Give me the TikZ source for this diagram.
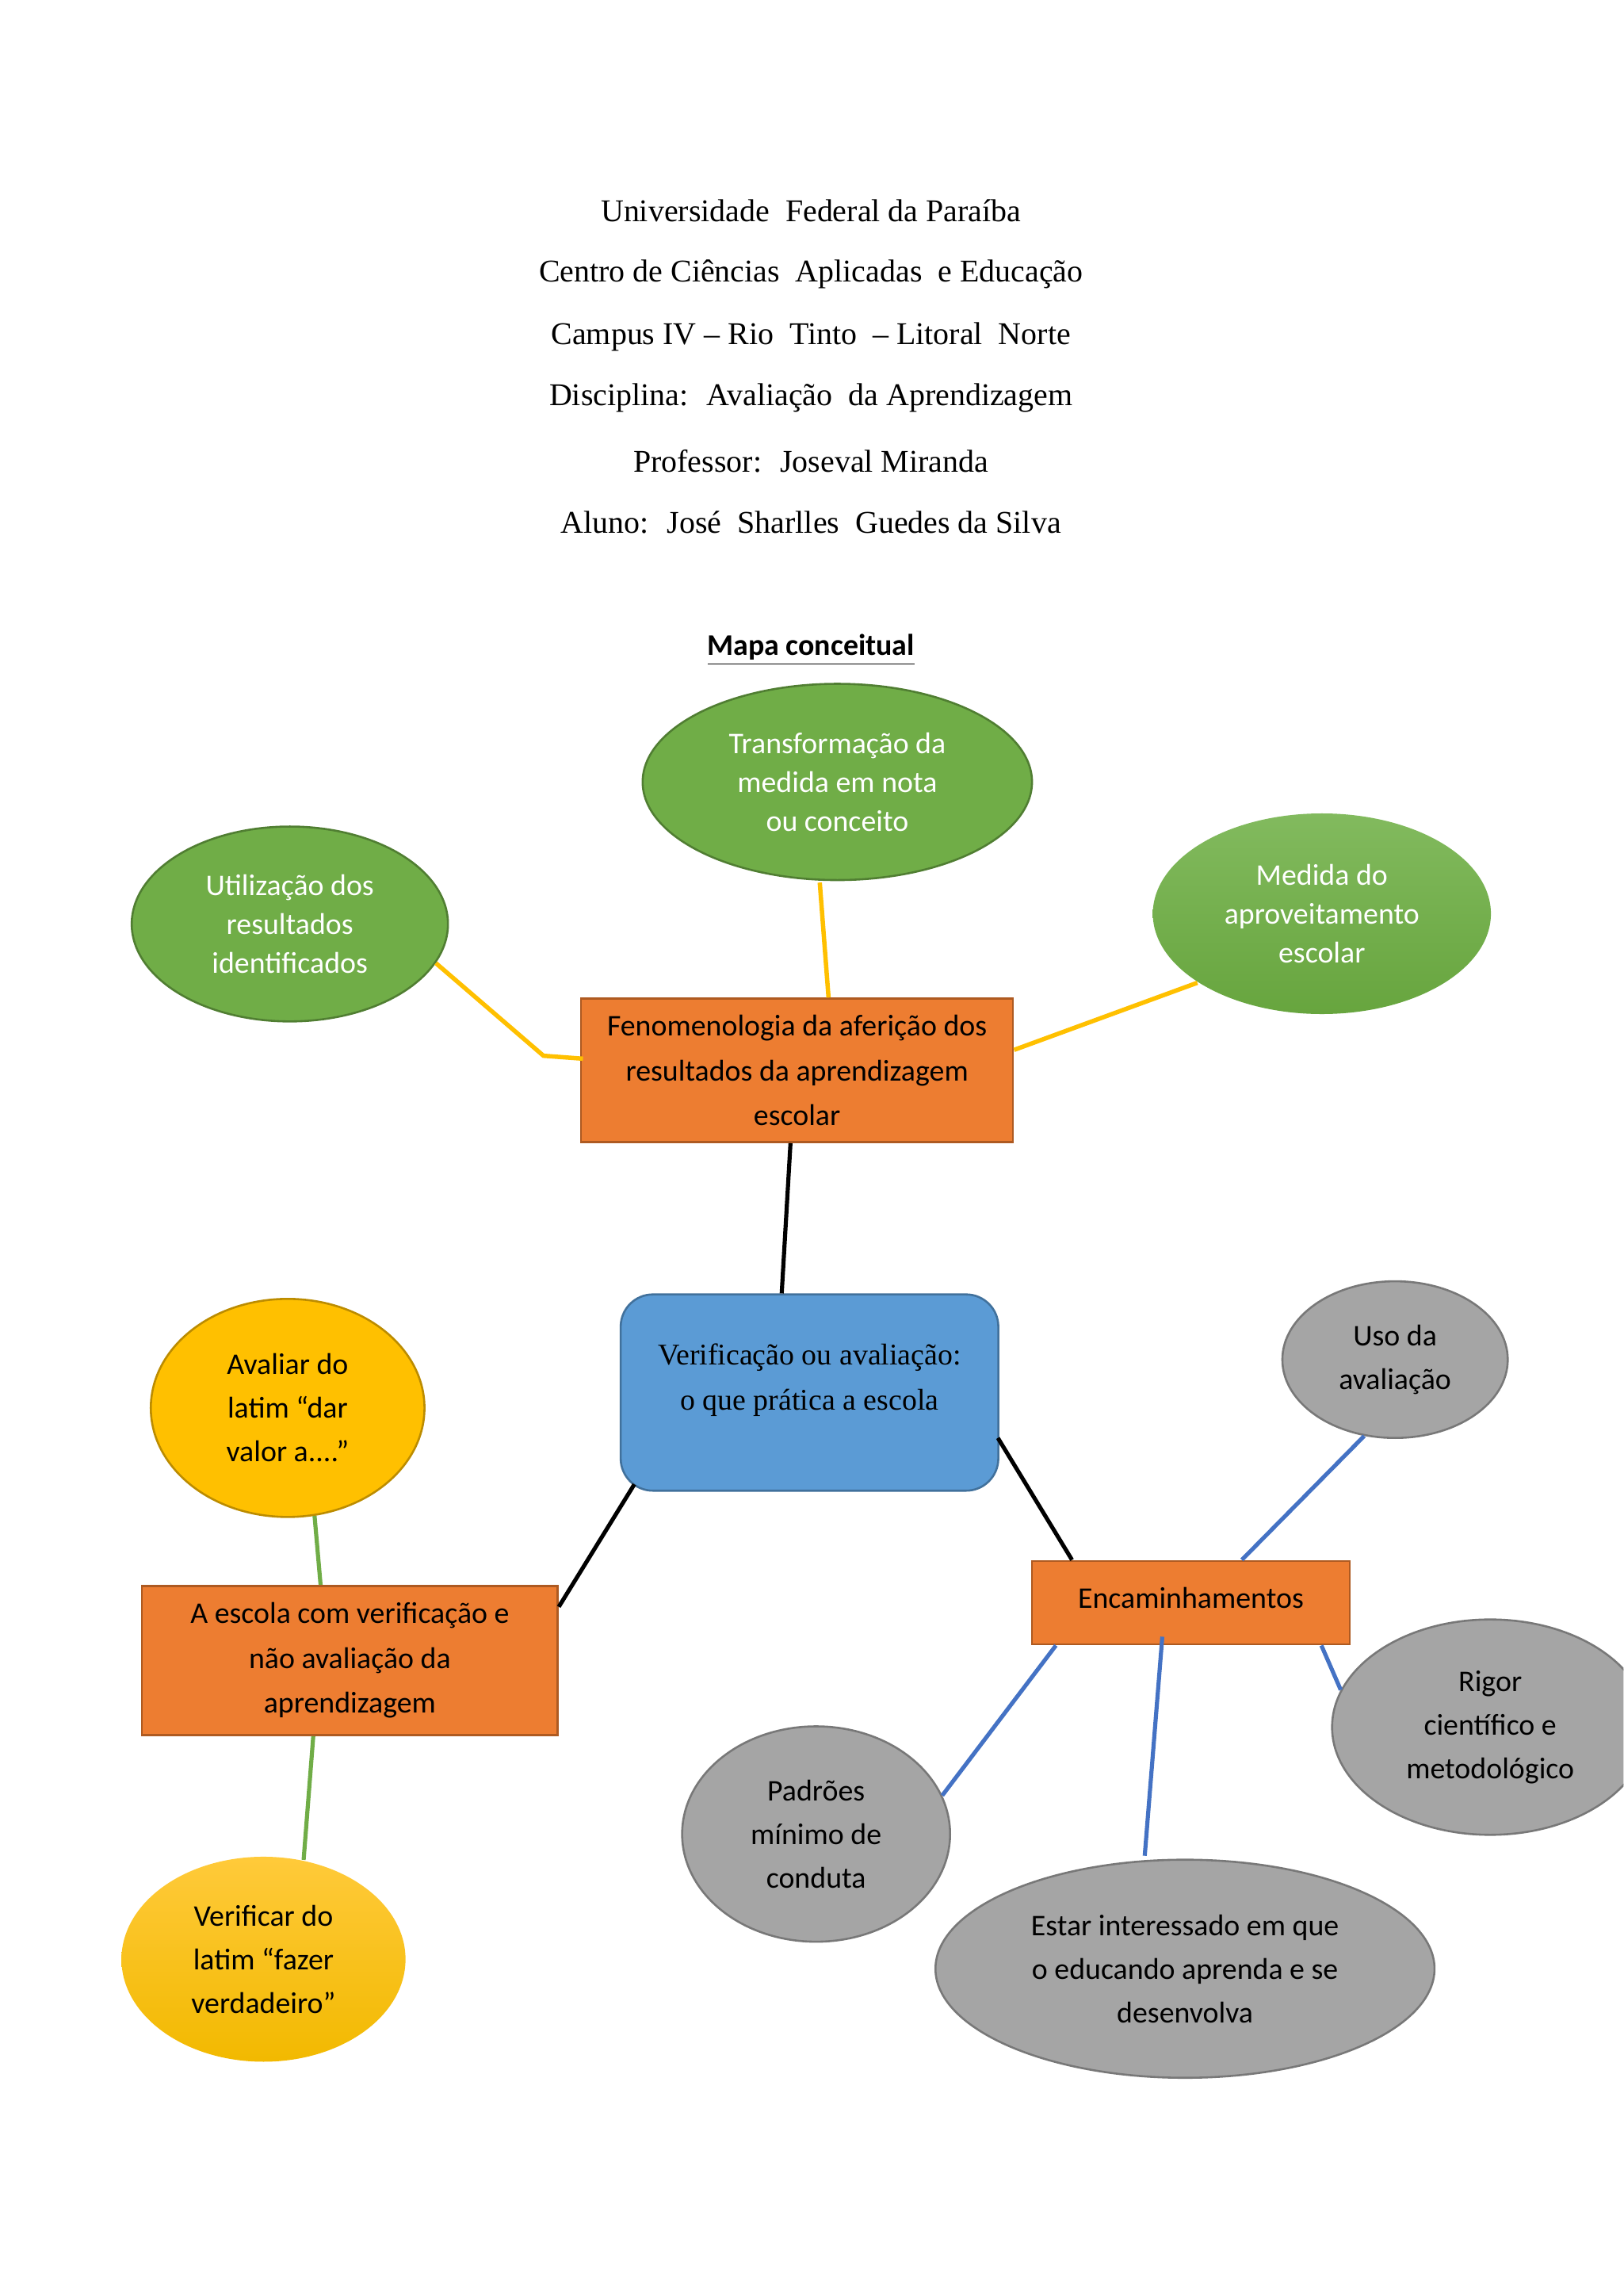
\documentclass[tikz,border=0pt]{standalone}
\usepackage{fontspec}
\setmainfont{Liberation Serif}
\newfontfamily\calibri{Carlito}
\usetikzlibrary{shapes.geometric,calc}
\definecolor{gfill}{HTML}{70AD47}
\definecolor{gdraw}{HTML}{507E32}
\definecolor{gtop}{HTML}{82BA5E}
\definecolor{gbot}{HTML}{67A53E}
\definecolor{ofill}{HTML}{ED7D31}
\definecolor{odraw}{HTML}{AE5A21}
\definecolor{bfill}{HTML}{5B9BD5}
\definecolor{bdraw}{HTML}{41719C}
\definecolor{yfill}{HTML}{FFC000}
\definecolor{ydraw}{HTML}{BC8C00}
\definecolor{ytop}{HTML}{FFCA3A}
\definecolor{ybot}{HTML}{F2B900}
\definecolor{kfill}{HTML}{A5A5A5}
\definecolor{kdraw}{HTML}{787878}
\definecolor{yline}{HTML}{FFC000}
\definecolor{gline}{HTML}{70AD47}
\definecolor{bline}{HTML}{4472C4}
\tikzset{
  ell/.style={ellipse, line width=0.75pt, align=center, inner sep=0pt,
    font=\calibri\fontsize{11}{16}\selectfont},
  greenell/.style={ell, draw=gdraw, fill=gfill, text=white,
    font=\calibri\fontsize{11}{14.3}\selectfont},
  greengrad/.style={ell, top color=gtop, bottom color=gbot, text=white,
    font=\calibri\fontsize{11}{14.3}\selectfont},
  yellowell/.style={ell, draw=ydraw, fill=yfill},
  yellowgrad/.style={ell, top color=ytop, bottom color=ybot},
  grayell/.style={ell, draw=kdraw, fill=kfill},
  obox/.style={rectangle, draw=odraw, fill=ofill, line width=0.75pt, align=center,
    inner sep=0pt, font=\calibri\fontsize{11}{16.4}\selectfont},
  bbox/.style={rectangle, rounded corners=11.8pt, draw=bdraw, fill=bfill, line width=0.75pt},
  btext/.style={align=center, inner sep=0pt, font=\fontsize{11}{16.6}\selectfont},
  titletext/.style={inner sep=0pt, font=\fontsize{11.6}{14}\selectfont},
  yconn/.style={draw=yline, line width=1.6pt},
  kconn/.style={draw=black, line width=1.5pt},
  gconn/.style={draw=gline, line width=1.5pt},
  bconn/.style={draw=bline, line width=1.5pt}
}
\begin{document}
\begin{tikzpicture}[x=0.5365pt,y=-0.5365pt]
\clip (0,0) rectangle (1109,1568);
\fill[white] (0,0) rectangle (1109,1568);

% title
\node[titletext] (t1) at (554,144) {Universidade~ Federal da Paraíba};
\node[titletext] (t2) at (554,187) {Centro de Ciências~ Aplicadas~ e Educação};
\node[titletext] (t3) at (554,230) {Campus IV – Rio~ Tinto~ – Litoral~ Norte};
\node[titletext] (t4) at (554,272) {Disciplina:~ Avaliação~ da Aprendizagem};
\node[titletext] (t5) at (554,315) {Professor:~ Joseval Miranda};
\node[titletext] (t6) at (554,357) {Aluno:~ José~ Sharlles~ Guedes da Silva};
\node[inner sep=0pt, font=\calibri\bfseries\fontsize{11}{13}\selectfont] (mapa) at (554,444) {\underline{Mapa conceitual}};

% upper part
\node[greenell, minimum width=142.7pt, minimum height=71.9pt] (tr) at (572,534) {Transformação da\\medida em nota\\ou conceito};
\node[greenell, minimum width=115.9pt, minimum height=71.4pt] (ut) at (198,631) {Utilização dos\\resultados\\identificados};
\node[greengrad, minimum width=123.9pt, minimum height=73.5pt] (md) at (903,624) {Medida do\\aproveitamento\\escolar};
\node[obox, minimum width=158.3pt, minimum height=52.6pt] (feno) at (544.5,731) {Fenomenologia da aferição dos\\resultados da aprendizagem\\escolar};

% centre
\node[bbox, minimum width=138.4pt, minimum height=71.9pt] (ver) at (553,951) {};
\node[btext] (vertext) at (553,942.5) {Verificação ou avaliação:\\o que prática a escola};

% left branch
\node[yellowell, minimum width=100.3pt, minimum height=79.9pt] (av) at (196.5,961.5) {Avaliar do\\latim “dar\\valor a....”};
\node[obox, minimum width=152.4pt, minimum height=54.7pt] (esc) at (239,1134) {A escola com verificação e\\não avaliação da\\aprendizagem};
\node[yellowgrad, minimum width=104.1pt, minimum height=75.1pt] (vf) at (180,1338) {Verificar do\\latim “fazer\\verdadeiro”};

% right branch
\node[obox, minimum width=116.4pt, minimum height=30.6pt] (enc) at (813.5,1094.5) {\raisebox{3.5pt}{Encaminhamentos}};
\node[grayell, minimum width=82.6pt, minimum height=57.4pt] (uso) at (953,928.5) {Uso da\\avaliação};
\node[grayell, minimum width=115.9pt, minimum height=78.9pt] (rig) at (1018,1179.5) {Rigor\\científico e\\metodológico};
\node[grayell, minimum width=98.2pt, minimum height=78.9pt] (pad) at (557.5,1252.5) {Padrões\\mínimo de\\conduta};
\node[grayell, minimum width=182.9pt, minimum height=79.9pt] (est) at (809.5,1344.5) {Estar interessado em que\\o educando aprenda e se\\desenvolva};

% connectors
\draw[yconn] (ut.-15.6) -- ($(feno.west)+(-25,-10)$) -- ($(feno.west)+(2,-8)$);
\draw[yconn] ($(tr.south)+(-12,1)$) -- ($(feno.north)+(21.5,0)$);
\draw[yconn] (md.209) -- ($(feno.east)+(0,-14)$);

\draw[kconn] ($(feno.south)+(-4.5,0)$) -- ($(ver.north)+(-19,0)$);
\draw[kconn] ($(ver.south west)+(10,-5)$) -- ($(esc.north east)+(0,15)$);
\draw[kconn] ($(ver.east)+(-1,31)$) -- ($(enc.north west)+(28,0)$);

\draw[gconn] (av.-76) -- ($(esc.north)+(-20,0)$);
\draw[gconn] ($(esc.south)+(-25,0)$) -- (vf.68.5);

\draw[bconn] ($(enc.north west)+(144,0)$) -- (uso.248);
\draw[bconn] ($(enc.south east)+(-20,0)$) -- (rig.166);
\draw[bconn] ($(enc.south west)+(17,0)$) -- (pad.17);
\draw[bconn] ($(enc.south)+(-19.5,-6)$) -- ($(est.north)+(-27.5,-2)$);
\end{tikzpicture}
\end{document}
